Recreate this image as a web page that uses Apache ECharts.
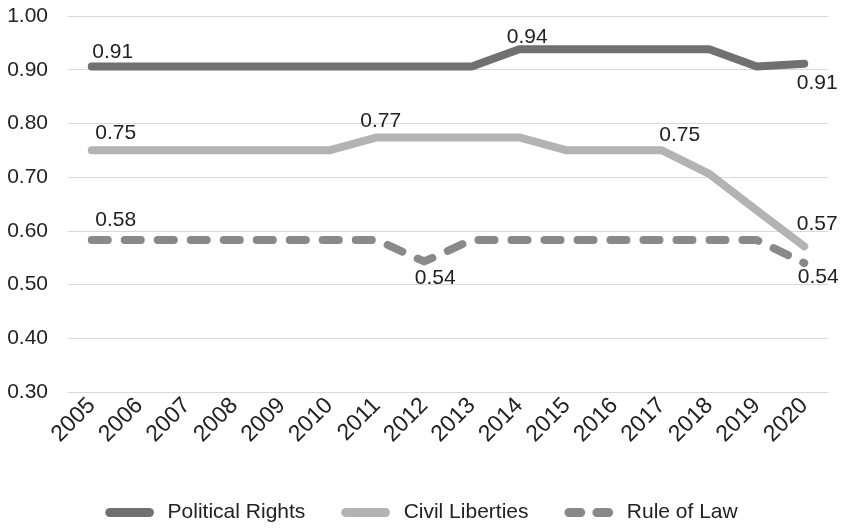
<!DOCTYPE html>
<html>
<head>
<meta charset="utf-8">
<script src="https://cdn.jsdelivr.net/npm/echarts@6/dist/echarts.min.js"></script>
<style>
html, body { margin: 0; padding: 0; background: #fff; }
#chart { width: 843px; height: 528px; }
</style>
</head>
<body>
<div id="chart"></div>
<script>
// data
var years = ['2005', '2006', '2007', '2008', '2009', '2010', '2011', '2012',
    '2013', '2014', '2015', '2016', '2017', '2018', '2019', '2020'];
var politicalRights = [0.906, 0.906, 0.906, 0.906, 0.906, 0.906, 0.906, 0.906,
    0.906, 0.938, 0.938, 0.938, 0.938, 0.938, 0.906, 0.911];
var civilLiberties = [0.75, 0.75, 0.75, 0.75, 0.75, 0.75, 0.774, 0.774,
    0.774, 0.774, 0.75, 0.75, 0.75, 0.706, 0.638, 0.571];
var ruleOfLaw = [0.583, 0.583, 0.583, 0.583, 0.583, 0.583, 0.583, 0.543,
    0.583, 0.583, 0.583, 0.583, 0.583, 0.583, 0.583, 0.54];
// which points carry a value label: [position, nudge x, nudge y]
var prLabels = {0: ['top', 21, 1], 9: ['top', 8, 3], 15: ['bottom', 13, 4]};
var clLabels = {0: ['top', 24, -2], 6: ['top', 4, -1], 12: ['top', 18, 0], 15: ['top', 13, -7]};
var rlLabels = {0: ['top', 24, -4], 7: ['bottom', 11, 1], 15: ['bottom', 14, -1]};

var chart = echarts.init(document.getElementById('chart'));

function withLabels(values, labels) {
    return values.map(function (v, i) {
        var l = labels[i];
        if (l === undefined) {
            return v;
        }
        return {
            value: v,
            label: {
                show: true,
                position: l[0],
                distance: 5,
                offset: [l[1], l[2]],
                formatter: function (p) { return p.value.toFixed(2); }
            }
        };
    });
}

var labelText = {
    color: '#222',
    fontSize: 21,
    fontFamily: 'Liberation Sans'
};

var pill = 'path://M5,0H49A5,5,0,0,1,49,10H5A5,5,0,0,1,5,0Z';
var dashPill = 'path://M5,0H18A5,5,0,0,1,18,10H5A5,5,0,0,1,5,0Z' +
    'M36,0H49A5,5,0,0,1,49,10H36A5,5,0,0,1,36,0Z';

var option = {
    animation: false,
    backgroundColor: '#fff',
    grid: {
        left: 68,
        right: 15,
        top: 16,
        bottom: 136
    },
    legend: {
        bottom: 0,
        left: 'center',
        itemWidth: 54,
        itemHeight: 9,
        itemGap: 36,
        textStyle: {
            color: '#222',
            fontSize: 21,
            fontFamily: 'Liberation Sans',
            padding: [0, 0, 0, 6]
        },
        data: [
            {name: 'Political Rights', icon: pill},
            {name: 'Civil Liberties', icon: pill},
            {name: 'Rule of Law', icon: dashPill}
        ]
    },
    xAxis: {
        type: 'category',
        data: years,
        axisLine: {show: false},
        axisTick: {show: false},
        axisLabel: {
            rotate: 45,
            margin: 10,
            color: '#222',
            fontSize: 23,
            fontFamily: 'Liberation Sans'
        }
    },
    yAxis: {
        type: 'value',
        min: 0.3,
        max: 1.0,
        interval: 0.1,
        axisLine: {show: false},
        axisTick: {show: false},
        splitLine: {lineStyle: {color: '#d9d9d9', width: 1}},
        axisLabel: {
            margin: 20,
            color: '#222',
            fontSize: 21,
            fontFamily: 'Liberation Sans',
            formatter: function (v) { return v.toFixed(2); }
        }
    },
    series: [
        {
            name: 'Political Rights',
            type: 'line',
            symbol: 'circle',
            symbolSize: 0,
            color: '#707073',
            lineStyle: {width: 8, cap: 'round', join: 'round'},
            label: labelText,
            data: withLabels(politicalRights, prLabels)
        },
        {
            name: 'Civil Liberties',
            type: 'line',
            symbol: 'circle',
            symbolSize: 0,
            color: '#b3b3b6',
            lineStyle: {width: 8, cap: 'round', join: 'round'},
            label: labelText,
            data: withLabels(civilLiberties, clLabels)
        },
        {
            name: 'Rule of Law',
            type: 'line',
            symbol: 'circle',
            symbolSize: 0,
            color: '#89898c',
            lineStyle: {width: 8, type: [16, 17], cap: 'round', join: 'round'},
            label: labelText,
            data: withLabels(ruleOfLaw, rlLabels)
        }
    ]
};

chart.setOption(option);
</script>
</body>
</html>
